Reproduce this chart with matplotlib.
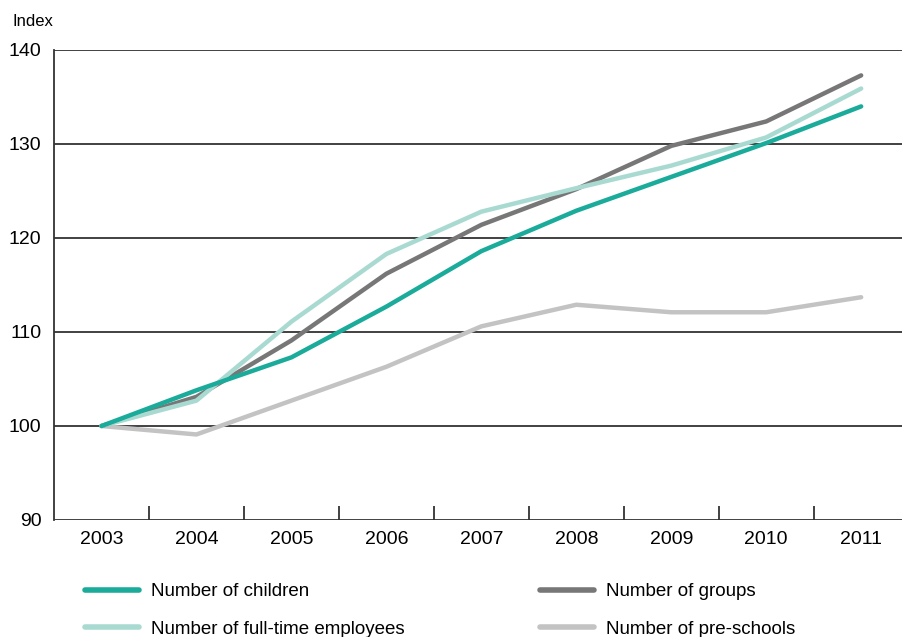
import matplotlib
matplotlib.use("Agg")
import matplotlib.pyplot as plt
from matplotlib.lines import Line2D

years = ["2003", "2004", "2005", "2006", "2007", "2008", "2009", "2010", "2011"]
children = [100, 103.8, 107.3, 112.7, 118.6, 122.9, 126.5, 130.1, 134.0]
groups = [100, 103.1, 109.1, 116.2, 121.4, 125.2, 129.8, 132.4, 137.3]
employees = [100, 102.7, 111.1, 118.3, 122.8, 125.3, 127.7, 130.7, 135.9]
preschools = [100, 99.1, 102.7, 106.3, 110.6, 112.9, 112.1, 112.1, 113.7]
yticks = [90, 100, 110, 120, 130, 140]

plt.rcParams['font.family'] = ['Liberation Sans', 'DejaVu Sans']

fig = plt.figure(figsize=(9.02, 6.37), dpi=100)
ax = fig.add_axes([54/902, 1 - 520/637, 1 - 54/902, 470/637])

x = list(range(len(years)))
series = [
    ("Number of children", children, "#1aab9b"),
    ("Number of groups", groups, "#777777"),
    ("Number of full-time employees", employees, "#a9dad1"),
    ("Number of pre-schools", preschools, "#c3c3c3"),
]
zorder = [5, 3, 4, 2]
for i in [3, 1, 2, 0]:
    name, vals, col = series[i]
    ax.plot(x, vals, color=col, lw=3.2, solid_capstyle='round',
            solid_joinstyle='miter', zorder=zorder[i])

ax.set_ylim(90, 140)
ax.set_xlim(-0.5, 8.43)
ax.set_yticks(yticks)
ax.set_yticklabels([str(v) for v in yticks], fontsize=14)
for v in yticks:
    ax.axhline(v, color="#333333", lw=1.3, zorder=1)
ax.set_xticks(x)
ax.set_xticklabels(years, fontsize=14)
ax.set_xticks([i + 0.5 for i in range(len(years) - 1)], minor=True)
ax.tick_params(axis='x', which='major', length=0, pad=8)
ax.tick_params(axis='x', which='minor', direction='in', length=10, width=1.3, color="#333333")
ax.tick_params(axis='y', length=0, pad=9)
for s in ['top', 'right']:
    ax.spines[s].set_visible(False)
ax.spines['bottom'].set_visible(False)
ax.spines['left'].set_linewidth(1.3)
ax.spines['left'].set_color("#333333")

fig.text(12/902, 1 - 21/637, "Index", fontsize=12, va='center', ha='left')

def handles(idx):
    return [Line2D([0], [0], color=series[i][2], lw=4, solid_capstyle='round') for i in idx]

common = dict(loc='upper left', frameon=False, fontsize=13.5, handlelength=2.9,
              handletextpad=0.6, labelspacing=1.1, borderaxespad=0, borderpad=0)
leg1 = fig.legend(handles([0, 2]), [series[0][0], series[2][0]],
                  bbox_to_anchor=(85/902, 1 - 583/637), **common)
leg2 = fig.legend(handles([1, 3]), [series[1][0], series[3][0]],
                  bbox_to_anchor=(540/902, 1 - 583/637), **common)

fig.savefig("out.png", dpi=100)
